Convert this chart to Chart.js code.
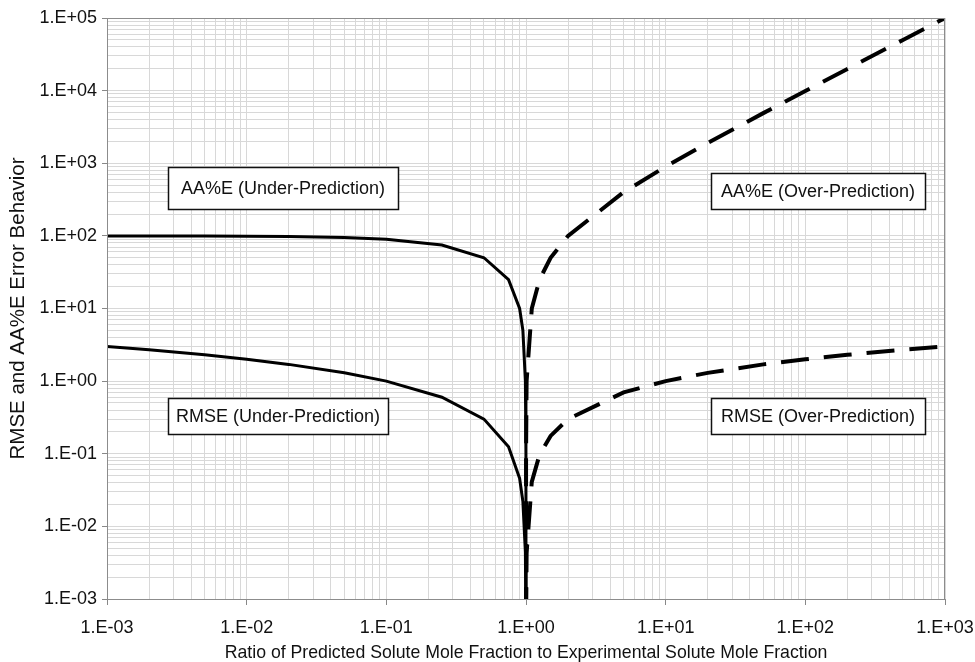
<!DOCTYPE html>
<html><head><meta charset="utf-8">
<script src="https://cdn.jsdelivr.net/npm/chart.js@4/dist/chart.umd.min.js"></script>
<style>html,body{margin:0;padding:0;background:#fff}#wrap{width:975px;height:662px;position:relative}</style>
</head><body><div id="wrap"><canvas id="c"></canvas></div>
<script>
// ---- Data ----
const ratioUnder = [0.001, 0.002, 0.005, 0.01, 0.02, 0.05, 0.1, 0.25, 0.5, 0.75, 0.9, 0.95, 0.99, 0.999, 1];
const aaeUnder   = [99.9, 99.8, 99.5, 99, 98, 95, 90, 75, 50, 25, 10, 5, 1, 0.1, 0.00001];
const rmseUnder  = [3, 2.7, 2.3, 2, 1.7, 1.3, 1, 0.6, 0.3, 0.125, 0.046, 0.022, 0.0044, 0.00043, 0.00001];

const ratioOver = [1, 1.001, 1.01, 1.1, 1.25, 1.5, 2, 5, 10, 20, 50, 100, 200, 500, 1000];
const aaeOver   = [0.00001, 0.1, 1, 10, 25, 50, 100, 400, 900, 1900, 4900, 9900, 19900, 49900, 99900];
const rmseOver  = [0.00001, 0.00043, 0.0043, 0.041, 0.097, 0.176, 0.3, 0.7, 1, 1.3, 1.7, 2, 2.3, 2.7, 3];

const xTickLabels = ['1.E-03','1.E-02','1.E-01','1.E+00','1.E+01','1.E+02','1.E+03'];
const yTickLabels = ['1.E-03','1.E-02','1.E-01','1.E+00','1.E+01','1.E+02','1.E+03','1.E+04','1.E+05'];
const xTitle = 'Ratio of Predicted Solute Mole Fraction to Experimental Solute Mole Fraction';
const yTitle = 'RMSE and AA%E Error Behavior';
const boxLabels = ['AA%E (Under-Prediction)','AA%E (Over-Prediction)','RMSE (Under-Prediction)','RMSE (Over-Prediction)'];

// ---- helpers ----
function pts(xs, ys){ return xs.map((x,i)=>({x:x, y:ys[i]})); }
function isMajor(v){ const e=Math.round(Math.log10(v)); return Math.abs(v/Math.pow(10,e)-1)<1e-9; }
function logTicks(minExp, maxExp){
  const t=[];
  for(let e=minExp;e<maxExp;e++){ for(let m=1;m<=9;m++){ t.push({value:m*Math.pow(10,e)}); } }
  t.push({value:Math.pow(10,maxExp)});
  return t;
}
const FONT = '"Liberation Sans", Arial, sans-serif';

const boxPlugin = {
  id:'boxes',
  afterDatasetsDraw(chart){
    const ctx=chart.ctx, a=chart.chartArea;
    ctx.save();
    ctx.strokeStyle='#8c8c8c'; ctx.lineWidth=1;
    ctx.strokeRect(a.left+0.5, a.top+0.5, a.right-a.left-1, a.bottom-a.top);
    const rects=[[168,167,230,42],[711,173,214,36],[168,398,220,36],[711,398,214,36]];
    ctx.font='18px '+FONT; ctx.textAlign='center'; ctx.textBaseline='middle';
    rects.forEach((r,i)=>{
      ctx.fillStyle='#fff'; ctx.fillRect(r[0],r[1],r[2],r[3]);
      ctx.strokeStyle='#111'; ctx.lineWidth=1.5; ctx.strokeRect(r[0]+0.5,r[1]+0.5,r[2],r[3]);
      ctx.fillStyle='#111'; ctx.fillText(boxLabels[i], r[0]+r[2]/2, r[1]+r[3]/2+1);
    });
    ctx.restore();
  }
};

const gridColor = c => '#d8d8d8';
const tickColor = c => (c.tick && isMajor(c.tick.value)) ? '#888' : 'rgba(0,0,0,0)';

new Chart(document.getElementById('c'), {
  type:'line',
  data:{ datasets:[
    {data:pts(ratioUnder,aaeUnder), borderColor:'#000', borderWidth:3, pointRadius:0, tension:0, fill:false},
    {data:pts(ratioUnder,rmseUnder), borderColor:'#000', borderWidth:3, pointRadius:0, tension:0, fill:false},
    {data:pts(ratioOver,aaeOver), borderColor:'#000', borderWidth:4, borderDash:[28,15], pointRadius:0, tension:0, fill:false},
    {data:pts(ratioOver,rmseOver), borderColor:'#000', borderWidth:4, borderDash:[28,15], pointRadius:0, tension:0, fill:false}
  ]},
  options:{
    responsive:true, maintainAspectRatio:false, animation:false,
    layout:{padding:{left:0, top:18, right:30, bottom:0}},
    plugins:{legend:{display:false}, tooltip:{enabled:false}},
    scales:{
      x:{
        type:'logarithmic', min:0.001, max:1000,
        afterBuildTicks(s){ s.ticks = logTicks(-3,3); },
        afterFit(s){ s.height = 63; s.paddingLeft = 0; s.paddingRight = 0; },
        border:{color:'#8c8c8c'},
        grid:{color:gridColor, tickColor:tickColor, tickLength:6, lineWidth:1},
        ticks:{autoSkip:false, maxRotation:0, padding:12, color:'#111', font:{family:FONT, size:18},
          callback:(v)=> isMajor(v) ? xTickLabels[Math.round(Math.log10(v))+3] : ''},
        title:{display:true, text:xTitle, color:'#111', font:{family:FONT, size:17.7}, padding:{top:0,bottom:-2}}
      },
      y:{
        type:'logarithmic', min:0.001, max:100000,
        afterBuildTicks(s){ s.ticks = logTicks(-3,5); },
        afterFit(s){ s.width = 107; s.paddingTop = 0; s.paddingBottom = 0; },
        border:{color:'#8c8c8c'},
        grid:{color:gridColor, tickColor:tickColor, tickLength:5, lineWidth:1},
        ticks:{autoSkip:false, padding:5, color:'#111', font:{family:FONT, size:18},
          callback:(v)=> isMajor(v) ? yTickLabels[Math.round(Math.log10(v))+3] : ''},
        title:{display:true, text:yTitle, color:'#111', font:{family:FONT, size:20.5}, padding:{top:6,bottom:0}}
      }
    }
  },
  plugins:[boxPlugin]
});
</script></body></html>
